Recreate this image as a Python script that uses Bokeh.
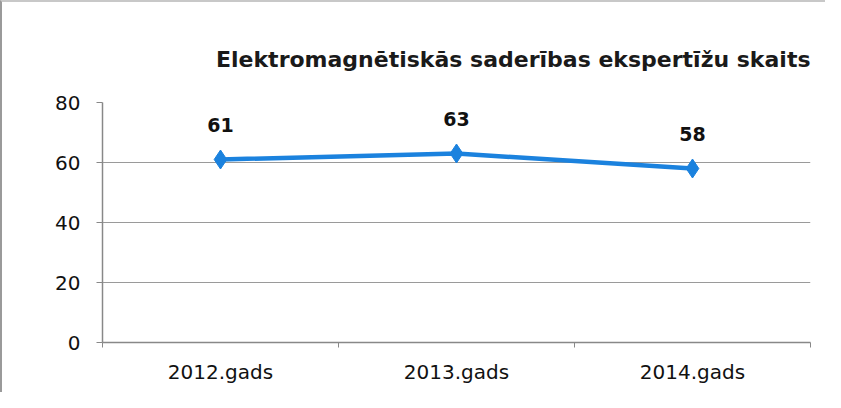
from bokeh.plotting import figure
from bokeh.models import ColumnDataSource, FixedTicker, Range1d, LabelSet
from bokeh.core.properties import value
from bokeh.embed import file_html
from bokeh.resources import INLINE

title_text = "Elektromagnētiskās saderības ekspertīžu skaits"
categories = ["2012.gads", "2013.gads", "2014.gads"]
values = [61, 63, 58]
y_ticks = [0, 20, 40, 60, 80]

xs = [i + 0.5 for i in range(len(categories))]
src = ColumnDataSource(dict(x=xs, y=values, lbl=[str(v) for v in values]))

p = figure(width=825, height=392, output_backend="svg", toolbar_location=None,
           x_range=Range1d(0, len(categories)), y_range=Range1d(0, 80),
           min_border_left=100, min_border_right=17, min_border_top=100, min_border_bottom=52)

p.title.text = title_text
p.title.align = "right"
p.title.text_font = "DejaVu Sans"
p.title.text_font_size = "22px"
p.title.text_font_style = "bold"
p.title.text_color = "#1a1a1a"
p.title.standoff = 62

p.outline_line_color = None
p.background_fill_color = "white"
p.border_fill_color = "white"
p.styles = {"border-left": "2px solid #9a9a9a", "border-top": "2px solid #c8c8c8"}

p.line("x", "y", source=src, line_color="#1b82de", line_width=4.5)
p.scatter("x", "y", source=src, marker="diamond", size=19, fill_color="#1b82de", line_color="#1b82de")

labels = LabelSet(x="x", y="y", text="lbl", source=src, y_offset=35, text_align="center",
                  text_baseline="middle", text_font=value("DejaVu Sans"), text_font_style="bold",
                  text_font_size="19px", text_color="#111111")
p.add_layout(labels)

p.xaxis.ticker = FixedTicker(ticks=xs, minor_ticks=list(range(len(categories) + 1)))
p.xaxis.major_label_overrides = {x: c for x, c in zip(xs, categories)}
p.xaxis.major_tick_line_color = None
p.xaxis.minor_tick_line_color = "#888888"
p.xaxis.minor_tick_out = 5
p.xaxis.minor_tick_in = 0
p.xaxis.axis_line_color = "#888888"
p.xaxis.axis_line_width = 1.5
p.xaxis.major_label_text_font = "DejaVu Sans"
p.xaxis.major_label_text_font_size = "20px"
p.xaxis.major_label_text_color = "#111111"
p.xaxis.major_label_standoff = 11

p.yaxis.ticker = FixedTicker(ticks=y_ticks)
p.yaxis.minor_tick_line_color = None
p.yaxis.major_tick_line_color = "#888888"
p.yaxis.major_tick_out = 6
p.yaxis.major_tick_in = 0
p.yaxis.axis_line_color = "#888888"
p.yaxis.axis_line_width = 1.5
p.yaxis.major_label_text_font = "DejaVu Sans"
p.yaxis.major_label_text_font_size = "20px"
p.yaxis.major_label_text_color = "#111111"
p.yaxis.major_label_standoff = 16

p.xgrid.grid_line_color = None
p.ygrid.grid_line_color = "#9a9a9a"
p.ygrid.grid_line_width = 1.2

open("out.html", "w").write(file_html(p, INLINE))
